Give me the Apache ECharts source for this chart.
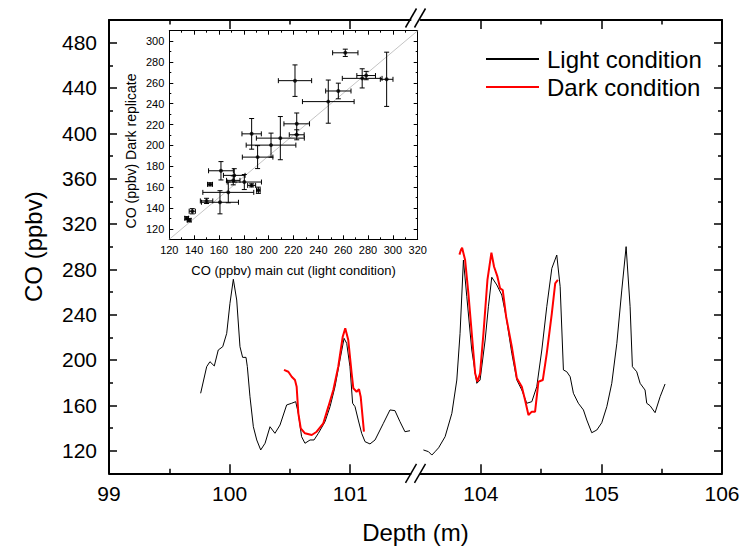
<!DOCTYPE html>
<html><head><meta charset="utf-8">
<script src="https://cdn.jsdelivr.net/npm/echarts@6/dist/echarts.min.js"></script>
<style>html,body{margin:0;padding:0;background:#fff}#c{width:742px;height:550px}</style>
</head><body><div id="c"></div>
<script>
// ---------- data ----------
const lightDepth = [99.760,99.810,99.837,99.873,99.906,99.943,99.976,100.003,100.031,100.059,
  100.086,100.108,100.136,100.147,100.169,100.197,100.225,100.258,100.294,100.335,
  100.376,100.418,100.473,100.515,100.548,100.570,100.597,100.625,100.667,100.700,
  100.736,100.791,100.833,100.874,100.915,100.949,100.971,100.998,101.020,101.040,
  101.067,101.095,101.123,101.164,101.206,101.275,101.330,101.371,101.413,101.454,101.496,
  103.497,103.524,103.566,103.594,103.620,103.650,103.704,103.760,103.801,103.828,
  103.856,103.884,103.925,103.967,103.994,104.036,104.063,104.091,104.133,104.174,
  104.210,104.257,104.299,104.340,104.381,104.423,104.464,104.506,104.547,104.589,
  104.630,104.658,104.685,104.713,104.741,104.768,104.809,104.851,104.879,104.920,
  104.962,105.003,105.045,105.086,105.128,105.169,105.205,105.238,105.257,105.293,
  105.321,105.362,105.376,105.404,105.445,105.487,105.528];
const lightCO = [170.6,194.1,198.5,194.7,208.8,211.7,223.5,250,271.2,252.9,
  211.7,202.3,202.3,194.1,167.6,141.1,129.4,120.6,126.5,141.1,
  135.3,142.6,160.3,161.8,163.2,152.9,132.3,126.5,129.4,129.4,
  135.3,145.5,158.8,176.4,200,219.1,214.7,194.1,161.8,158.8,
  147,135.3,127.9,125.9,129.4,144.1,155.9,155.3,145.5,136.7,137.6,
  130.9,120.6,119.1,116.1,119,122.5,132.3,152.9,182.3,223.5,
  288.2,255.8,208.8,179.4,182.3,217.6,247,273,266.2,257.3,
  238.2,205.9,182.3,173.5,161.8,163.2,176.4,208.8,247,280.9,
  292.6,264.7,191.2,189.6,185.2,170.6,161.8,155.9,147,135.8,
  138.2,144.6,158.8,179.4,214.7,261.7,300,247,194.1,189.6,
  179.4,173.5,161.8,159.6,153.5,167.6,178.8];
const darkDepth = [100.451,100.487,100.515,100.542,100.556,100.570,100.590,100.625,100.681,100.722,
  100.777,100.819,100.860,100.901,100.938,100.959,100.984,101.012,101.026,101.053,
  101.073,101.087,101.114,
  103.823,103.835,103.845,103.870,103.897,103.925,103.953,103.972,103.994,104.022,
  104.055,104.088,104.110,104.138,104.160,104.182,104.210,104.257,104.299,104.340,
  104.367,104.395,104.423,104.450,104.478,104.514,104.547,104.589,104.617,104.639];
const darkCO = [191.2,189.6,185.2,182.3,176.4,152.9,139.7,135.3,133.8,136.7,
  144.1,158.8,173.5,194.1,220.5,227.9,217.6,188.2,175,172,
  174.1,167.6,136.7,
  293,297,299,288.2,258.8,223.5,188.2,180.8,188.2,223.5,
  270.6,294.7,282.3,273.5,263.2,261.7,238.2,211.7,183.8,176.4,
  164.7,151.4,154.4,154.4,180.8,182.3,205.9,241.2,267.6,270.6];

const depthRangeLeft = [99, 101.5];
const depthRangeRight = [103.5, 106];
const coRange = [100, 500];
const xLeftMajor = [99, 100, 101];
const xLeftMinor = [99.5, 100.5];
const xRightMajor = [104, 105, 106];
const xRightMinor = [104.5, 105.5];
const yMajor = [120, 160, 200, 240, 280, 320, 360, 400, 440, 480];
const yMinor = [140, 180, 220, 260, 300, 340, 380, 420, 460];

// inset: light (main cut) vs dark replicate
const insetX =    [261.7,278.5,275.3,295.0,221.2,256.1,248.0,222.6,222.6,186.3,209.4,201.9,191.1,161.6,172.3,171.5,180.4,186.3,191.7,167.5,160.8,152.8,150.0,138.5,134.0,136.0];
const insetY =    [288.8,267.0,264.3,263.4,262.1,252.2,242.0,220.7,210.2,211.1,207.0,200.3,188.8,175.7,171.3,166.5,164.9,161.7,157.0,155.0,145.5,162.7,146.8,136.9,130.2,128.3];
const insetXErr = [10.2,7.5,16,5.1,13.4,10.2,20.8,10.3,6.0,7.8,19.3,20.0,12.3,10.0,8.7,5.4,13.8,3.2,1.5,20.5,14.9,2.0,5.0,2.5,1.5,1.5];
const insetYErr = [3.5,4.0,9.2,26.0,15.1,7.5,20.7,10.4,4.8,14.7,20.7,11.5,11.0,8.8,6.4,4.3,7.2,1.5,3.0,10.0,11.1,1.5,2.5,2.5,1.5,1.5];
const insetXRange = [120, 320];
const insetYRange = [110, 310];
const insetYMajor = [120, 140, 160, 180, 200, 220, 240, 260, 280, 300];
const insetYMinor = [110, 130, 150, 170, 190, 210, 230, 250, 270, 290, 310];
const insetRefLine = [[120, 110], [320, 310]];

// ---------- helpers ----------
const FONT = 'Liberation Sans, Arial, Helvetica, sans-serif';
function pairs(xs, ys, lo, hi) {
  const out = [];
  xs.forEach((x, i) => { if (x >= lo && x <= hi) out.push([x, ys[i]]); });
  return out;
}
function axis(gridIndex, position, range, ticks, o) {
  o = o || {};
  const tick = { show: true, inside: true, length: o.len || 8,
                 lineStyle: { color: '#000', width: o.tw || 1.5 } };
  if (ticks) tick.customValues = ticks;
  return {
    type: 'value', gridIndex, position, min: range[0], max: range[1],
    silent: true,
    axisLine: { show: o.line !== false, onZero: false, lineStyle: { color: '#000', width: o.lw || 2 } },
    axisTick: tick,
    axisLabel: o.labels ? { show: true, customValues: o.labels, color: '#000', fontFamily: FONT,
                            fontSize: o.fs || 21, margin: o.margin || 10 } : { show: false },
    minorTick: o.minor ? { show: true, splitNumber: 2, length: o.minorLen || 2,
                           lineStyle: { color: '#000', width: 1 } } : { show: false },
    splitLine: { show: false },
    name: o.name || '', nameLocation: 'middle', nameGap: o.nameGap || 0,
    nameTextStyle: { color: '#000', fontFamily: FONT, fontSize: o.nfs || 24, padding: o.npad || 0 }
  };
}

const xAxes = [
  // 0-3 left main grid
  axis(0, 'bottom', depthRangeLeft, xLeftMajor, { len: 9, labels: xLeftMajor, margin: 10 }),
  axis(0, 'bottom', depthRangeLeft, xLeftMinor, { len: 4.5, line: false }),
  axis(0, 'top', depthRangeLeft, xLeftMajor, { len: 9 }),
  axis(0, 'top', depthRangeLeft, xLeftMinor, { len: 4.5, line: false }),
  // 4-7 right main grid
  axis(1, 'bottom', depthRangeRight, xRightMajor, { len: 9, labels: xRightMajor, margin: 10 }),
  axis(1, 'bottom', depthRangeRight, xRightMinor, { len: 4.5, line: false }),
  axis(1, 'top', depthRangeRight, xRightMajor, { len: 9 }),
  axis(1, 'top', depthRangeRight, xRightMinor, { len: 4.5, line: false }),
  // 8-9 inset
  Object.assign(axis(2, 'bottom', insetXRange, null, { lw: 1, tw: 1, len: 4, minor: true,
        name: 'CO (ppbv) main cut (light condition)', nameGap: 25, nfs: 13 }), {
    interval: 20,
    axisLabel: { show: true, color: '#000', fontFamily: FONT, fontSize: 11, margin: 5 }
  }),
  Object.assign(axis(2, 'top', insetXRange, null, { lw: 1, tw: 1, len: 4, minor: true }), { interval: 20 })
];

const yAxes = [
  // 0-1 left grid
  axis(0, 'left', coRange, yMajor, { len: 8, labels: yMajor, margin: 12, name: 'CO (ppbv)', nameGap: 64, nfs: 24 }),
  axis(0, 'left', coRange, yMinor, { len: 4, line: false }),
  // 2-3 right grid
  axis(1, 'right', coRange, yMajor, { len: 8 }),
  axis(1, 'right', coRange, yMinor, { len: 4, line: false }),
  // 4-7 inset
  axis(2, 'left', insetYRange, insetYMajor, { lw: 1, tw: 1, len: 4, labels: insetYMajor, fs: 11, margin: 5,
        name: 'CO (ppbv) Dark replicate', nameGap: 31, nfs: 14, npad: [0, 32, 0, 0] }),
  axis(2, 'left', insetYRange, insetYMinor, { lw: 1, tw: 1, len: 2, line: false }),
  axis(2, 'right', insetYRange, insetYMajor, { lw: 1, tw: 1, len: 4 }),
  axis(2, 'right', insetYRange, insetYMinor, { lw: 1, tw: 1, len: 2, line: false })
];

const insetData = insetX.map((x, i) => [x, insetY[i], insetXErr[i], insetYErr[i]]);

const chart = echarts.init(document.getElementById('c'), null, { renderer: 'svg' });
chart.setOption({
  backgroundColor: '#fff',
  animation: false,
  textStyle: { fontFamily: FONT },
  grid: [
    { left: 109, top: 20, width: 301.5, height: 453.3, outerBoundsMode: 'none' },
    { left: 420.5, top: 20, width: 301.5, height: 453.3, outerBoundsMode: 'none' },
    { left: 169.3, top: 30.7, width: 248.4, height: 208.6, outerBoundsMode: 'none',
      show: true, backgroundColor: '#fff', borderWidth: 0 }
  ],
  xAxis: xAxes,
  yAxis: yAxes,
  legend: {
    data: ['Light condition', 'Dark condition'],
    orient: 'vertical', left: 485, top: 47, padding: 0,
    itemWidth: 53, itemHeight: 24, itemGap: 4,
    itemStyle: { opacity: 0 },
    textStyle: { fontSize: 24, color: '#000', fontFamily: FONT, padding: [0, 0, 0, 3] },
    selectedMode: false
  },
  series: [
    { name: 'Light condition', type: 'line', xAxisIndex: 0, yAxisIndex: 0, symbol: 'none',
      data: pairs(lightDepth, lightCO, depthRangeLeft[0], depthRangeLeft[1]),
      lineStyle: { color: '#000', width: 1 }, itemStyle: { color: '#000' }, z: 3 },
    { name: 'Light condition', type: 'line', xAxisIndex: 4, yAxisIndex: 2, symbol: 'none',
      data: pairs(lightDepth, lightCO, depthRangeRight[0], depthRangeRight[1]),
      lineStyle: { color: '#000', width: 1 }, itemStyle: { color: '#000' }, z: 3 },
    { name: 'Dark condition', type: 'line', xAxisIndex: 0, yAxisIndex: 0, symbol: 'none',
      data: pairs(darkDepth, darkCO, depthRangeLeft[0], depthRangeLeft[1]),
      lineStyle: { color: '#ff0000', width: 2 }, itemStyle: { color: '#ff0000' }, z: 4 },
    { name: 'Dark condition', type: 'line', xAxisIndex: 4, yAxisIndex: 2, symbol: 'none',
      data: pairs(darkDepth, darkCO, depthRangeRight[0], depthRangeRight[1]),
      lineStyle: { color: '#ff0000', width: 2 }, itemStyle: { color: '#ff0000' }, z: 4 },
    { type: 'line', xAxisIndex: 8, yAxisIndex: 4, symbol: 'none', data: insetRefLine, silent: true,
      lineStyle: { color: '#c4c4c4', width: 1 }, z: 5 },
    { type: 'custom', xAxisIndex: 8, yAxisIndex: 4, data: insetData, z: 6, silent: true,
      encode: { x: 0, y: 1 },
      renderItem: function (params, api) {
        const x = api.value(0), y = api.value(1), xe = api.value(2), ye = api.value(3);
        const l = api.coord([x - xe, y]), r = api.coord([x + xe, y]);
        const t = api.coord([x, y + ye]), b = api.coord([x, y - ye]);
        const st = { stroke: '#000', lineWidth: 1 };
        const c = 2.5;
        return { type: 'group', children: [
          { type: 'line', shape: { x1: l[0], y1: l[1], x2: r[0], y2: r[1] }, style: st },
          { type: 'line', shape: { x1: t[0], y1: t[1], x2: b[0], y2: b[1] }, style: st },
          { type: 'line', shape: { x1: l[0], y1: l[1] - c, x2: l[0], y2: l[1] + c }, style: st },
          { type: 'line', shape: { x1: r[0], y1: r[1] - c, x2: r[0], y2: r[1] + c }, style: st },
          { type: 'line', shape: { x1: t[0] - c, y1: t[1], x2: t[0] + c, y2: t[1] }, style: st },
          { type: 'line', shape: { x1: b[0] - c, y1: b[1], x2: b[0] + c, y2: b[1] }, style: st }
        ]};
      } },
    { type: 'scatter', xAxisIndex: 8, yAxisIndex: 4, data: insetData.map(d => [d[0], d[1]]),
      symbol: 'circle', symbolSize: 4, itemStyle: { color: '#000' }, z: 7, silent: true }
  ]
});

// decorations: axis-break marks and x title, positioned from the axes
const xl = chart.convertToPixel({ xAxisIndex: 0 }, depthRangeLeft[1]);
const xr = chart.convertToPixel({ xAxisIndex: 4 }, depthRangeRight[0]);
const x0 = chart.convertToPixel({ xAxisIndex: 0 }, depthRangeLeft[0]);
const x1 = chart.convertToPixel({ xAxisIndex: 4 }, depthRangeRight[1]);
const yb = chart.convertToPixel({ yAxisIndex: 0 }, coRange[0]);
const yt = chart.convertToPixel({ yAxisIndex: 0 }, coRange[1]);
const cx = (xl + xr) / 2;
function slashes(yc) {
  const s = { stroke: '#000', lineWidth: 1.5 };
  return [
    { type: 'line', shape: { x1: cx - 10, y1: yc + 9.5, x2: cx + 1, y2: yc - 9.5 }, style: s },
    { type: 'line', shape: { x1: cx - 1, y1: yc + 9.5, x2: cx + 10, y2: yc - 9.5 }, style: s }
  ];
}
chart.setOption({
  graphic: slashes(yb).concat(slashes(yt - 2)).concat([
    { type: 'text', x: (x0 + x1) / 2, y: 532,
      style: { text: 'Depth (m)', font: '24px ' + FONT, fill: '#000', textAlign: 'center', textVerticalAlign: 'middle' } }
  ])
});
</script>
</body></html>
